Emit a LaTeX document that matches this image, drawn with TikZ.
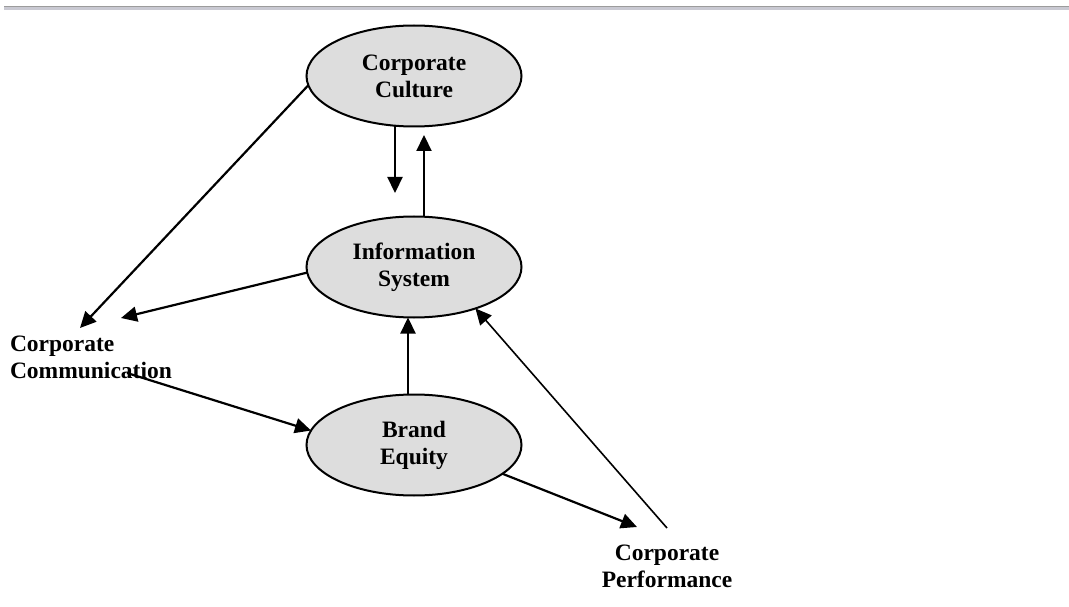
\documentclass[tikz,border=0pt]{standalone}
\usepackage{fontspec}
\setmainfont{Liberation Serif}
\usetikzlibrary{arrows.meta,shapes.geometric,calc}
\definecolor{ellfill}{HTML}{DDDDDD}
\definecolor{bardark}{HTML}{9C9C9C}
\definecolor{barlight}{HTML}{C9C9D2}
\begin{document}
\begin{tikzpicture}[x=1pt,y=-1pt,
  every node/.style={font=\bfseries\fontsize{23.5}{27}\selectfont},
  oval/.style={ellipse,draw=black,line width=2pt,fill=ellfill,minimum width=215pt,minimum height=101pt,inner sep=0pt,outer sep=0pt,align=center},
  label/.style={inner sep=0pt,outer sep=0pt},
  arr/.style={line width=2.2pt,-{Triangle[length=16pt,width=15pt]}},
  thinarr/.style={line width=1.6pt,-{Triangle[length=16pt,width=15pt]}}]
\useasboundingbox (0,0) rectangle (1069,607);
% top bar
\fill[barlight] (4,6) rectangle (1069,10);
\fill[bardark] (4,6) rectangle (1069,7.5);
% ellipses
\node[oval] (cul) at (414,76) {Corporate\\Culture};
\node[oval] (inf) at (414,267) {Information\\System};
\node[oval] (br) at (414,445) {Brand\\Equity};
% free texts
\node[label,anchor=north west,align=left] (cc) at (10,336) {Corporate\\Communication};
\node[label,anchor=north,align=center] (cp) at (667,545) {Corporate\\Performance};
% free ends
\coordinate (t1) at (80,328);
\coordinate (t2) at (121,318);
\coordinate (d1) at (395,193);
\coordinate (u1) at (424,135);
\coordinate (c1) at (127,373);
\coordinate (p1) at (637,527);
\coordinate (p2) at (667,528);
% connectors
\draw[arr] (cul.185) -- (t1);
\draw[arr] (cul.south -| d1) -- (d1);
\draw[arr] (inf.north -| u1) -- (u1);
\draw[arr] (inf.183) -- (t2);
\draw[arr] (c1) -- (br.172);
\draw[arr] ([xshift=-6pt]br.north) -- ([xshift=-6pt]inf.south);
\draw[arr] (br.-18) -- (p1);
\draw[thinarr] (p2) -- (inf.-34);
\end{tikzpicture}
\end{document}
